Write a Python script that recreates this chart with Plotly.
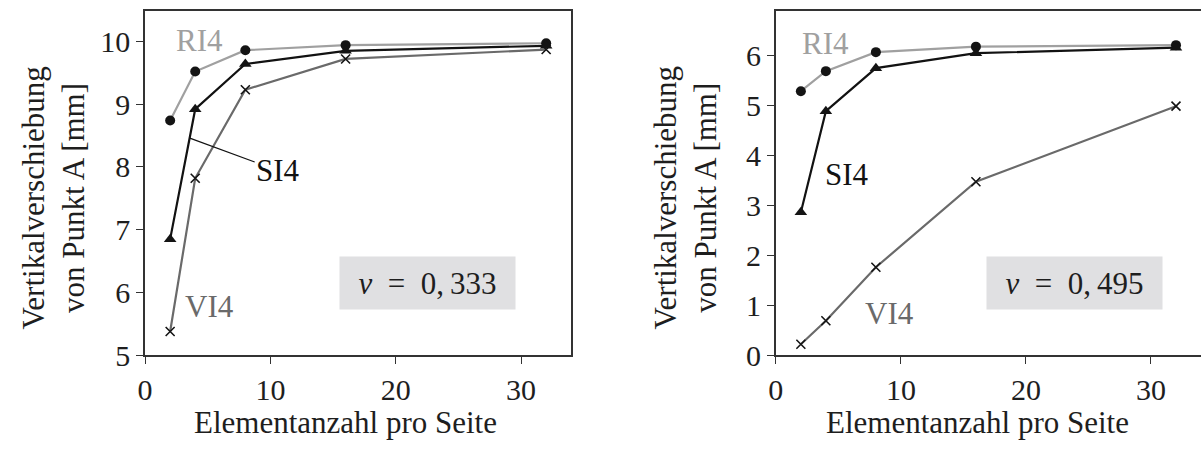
import plotly.graph_objects as go

# ---------------- data ----------------
elements = [2, 4, 8, 16, 32]

# nu = 0.333 (left panel)
ri4_333 = [8.74, 9.52, 9.86, 9.94, 9.97]
si4_333 = [6.85, 8.92, 9.64, 9.85, 9.93]
vi4_333 = [5.38, 7.82, 9.23, 9.72, 9.87]

# nu = 0.495 (right panel)
ri4_495 = [5.28, 5.68, 6.06, 6.17, 6.20]
si4_495 = [2.86, 4.88, 5.74, 6.04, 6.15]
vi4_495 = [0.22, 0.69, 1.76, 3.47, 4.98]

xticks = [0, 10, 20, 30]
yticks_333 = [5, 6, 7, 8, 9, 10]
yticks_495 = [0, 1, 2, 3, 4, 5, 6]

x_title = "Elementanzahl pro Seite"
y_title = "Vertikalverschiebung<br>von Punkt A [mm]"

FONT = "Liberation Serif"
C_RI = "#a0a0a0"
C_SI = "#121212"
C_VI = "#6a6a6a"
C_MK = "#141414"
C_AX = "#333333"

fig = go.Figure()


def add_series(xa, ya, ri, si, vi):
    fig.add_trace(go.Scatter(
        x=elements, y=ri, xaxis=xa, yaxis=ya, mode="lines+markers",
        line=dict(color=C_RI, width=2.2),
        marker=dict(symbol="circle", size=10, color=C_MK),
        showlegend=False))
    fig.add_trace(go.Scatter(
        x=elements, y=vi, xaxis=xa, yaxis=ya, mode="lines+markers",
        line=dict(color=C_VI, width=2.2),
        marker=dict(symbol="x-thin", size=9, color=C_MK,
                    line=dict(color=C_MK, width=1.6)),
        showlegend=False))
    fig.add_trace(go.Scatter(
        x=elements, y=si, xaxis=xa, yaxis=ya, mode="lines+markers",
        line=dict(color=C_SI, width=2.2),
        marker=dict(symbol="triangle-up", size=11, color=C_MK),
        showlegend=False))


add_series("x", "y", ri4_333, si4_333, vi4_333)
add_series("x2", "y2", ri4_495, si4_495, vi4_495)

tickfont = dict(family=FONT, size=30, color="#1e1e1e")
ydom = [1 - 368 / 464, 1 - 11 / 464]

axis_common = dict(
    showline=True, linecolor=C_AX, linewidth=1.6,
    ticks="outside", ticklen=7, tickwidth=1.4, tickcolor=C_AX,
    showgrid=False, zeroline=False, tickfont=tickfont,
)

fig.update_layout(
    width=1201, height=464,
    margin=dict(l=0, r=0, t=0, b=0),
    paper_bgcolor="white", plot_bgcolor="white",
    font=dict(family=FONT, color="#1e1e1e"),
    xaxis=dict(domain=[138 / 1201, 567 / 1201], range=[0, 34],
               tickvals=xticks, mirror=True, anchor="y", **axis_common),
    yaxis=dict(domain=ydom, range=[5, 10.49], tickvals=yticks_333,
               mirror=True, anchor="x", **axis_common),
    xaxis2=dict(domain=[773 / 1201, 1.0], range=[0, 34],
                tickvals=xticks, mirror=True, anchor="y2", **axis_common),
    yaxis2=dict(domain=ydom, range=[0, 6.89], tickvals=yticks_495,
                mirror=False, anchor="x2", **axis_common),
)

ann = []
# axis titles
for cx in (340, 976):
    ann.append(dict(text=x_title, xref="paper", yref="paper",
                    x=cx / 1201, y=1 - 438 / 464, xanchor="center", yanchor="middle",
                    showarrow=False, font=dict(family=FONT, size=31, color="#1e1e1e")))
for cx in (46, 682):
    ann.append(dict(text=y_title, xref="paper", yref="paper", textangle=-90,
                    x=cx / 1201, y=1 - 205 / 464, xanchor="center", yanchor="middle",
                    showarrow=False, font=dict(family=FONT, size=31, color="#1e1e1e")))

lab = dict(family=FONT, size=31)
# left panel labels
ann.append(dict(text="RI4", xref="x", yref="y", x=4.36, y=10.02, showarrow=False,
                font=dict(lab, color=C_RI)))
ann.append(dict(text="VI4", xref="x", yref="y", x=5.15, y=5.77, showarrow=False,
                font=dict(lab, color=C_VI)))
ann.append(dict(text="SI4", xref="x", yref="y", x=3.57, y=8.46,
                axref="x", ayref="y", ax=10.62, ay=7.94,
                showarrow=True, arrowhead=0, arrowwidth=1.2, arrowcolor="#111111",
                font=dict(lab, color=C_SI)))
# right panel labels
ann.append(dict(text="RI4", xref="x2", yref="y2", x=3.97, y=6.24, showarrow=False,
                font=dict(lab, color=C_RI)))
ann.append(dict(text="SI4", xref="x2", yref="y2", x=5.72, y=3.61, showarrow=False,
                font=dict(lab, color=C_SI)))
ann.append(dict(text="VI4", xref="x2", yref="y2", x=9.05, y=0.83, showarrow=False,
                font=dict(lab, color=C_VI)))

# nu boxes
nu_texts = ["<i>ν</i>\u00a0\u00a0=\u00a0\u00a00,\u2009333", "<i>ν</i>\u00a0\u00a0=\u00a0\u00a00,\u2009495"]
ann.append(dict(text=nu_texts[0], xref="x", yref="y", x=22.5, y=6.15, showarrow=False,
                width=175, height=52, bgcolor="#e0e0e2", borderpad=0,
                font=dict(family=FONT, size=31, color="#1e1e1e")))
ann.append(dict(text=nu_texts[1], xref="x2", yref="y2", x=23.9, y=1.45, showarrow=False,
                width=175, height=52, bgcolor="#e0e0e2", borderpad=0,
                font=dict(family=FONT, size=31, color="#1e1e1e")))

fig.update_layout(annotations=ann)
fig.write_html("out.html")
